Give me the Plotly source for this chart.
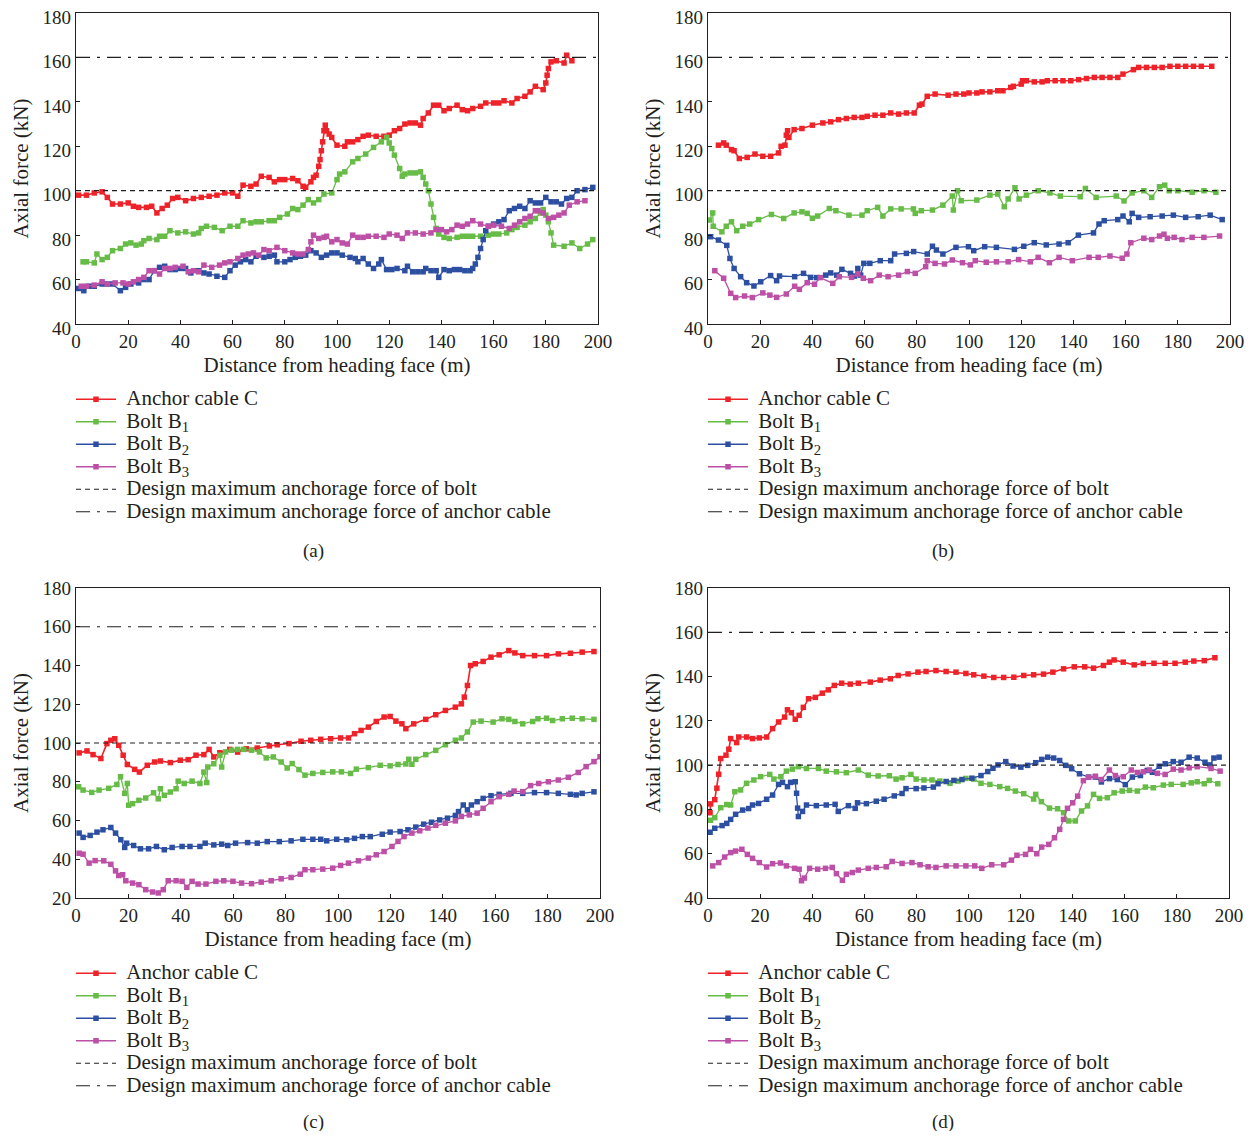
import plotly.graph_objects as go

W, H = 1257, 1139
PAGE_MARGIN = 8  # default body margin of the html page

# ---------------- data ----------------
X_TICKS = [0, 20, 40, 60, 80, 100, 120, 140, 160, 180, 200]
BOLT_DESIGN = 100
CABLE_DESIGN = 160

SERIES_NAMES = ["Anchor cable C", "Bolt B<sub>1</sub>", "Bolt B<sub>2</sub>", "Bolt B<sub>3</sub>"]
LINE_NAMES = ["Design maximum anchorage force of bolt", "Design maximum anchorage force of anchor cable"]
PANEL_LABELS = ["(a)", "(b)", "(c)", "(d)"]

# Panel (a)
a_C = [(1,98),(4,98),(7,99),(10,99.5),(12,97),(14,94),(17,94),(20,94.5),(22,93),(24,92.5),(27,92.5),(29,93),(31,90),(33,92),(35,93.5),(37,96.5),(39,97),(42,95.5),(45,96.5),(48,97),(51,97.5),(54,98),(57,99),(60,99),(62,97.5),(64,102.5),(67,102),(69,103),(71,106.5),(74,106),(76,104),(78,105),(80,105),(83,105.5),(85,104.5),(87,102),(88,101.5),(90,104),(91,106),(92,107),(93,111),(93.5,114),(94,118),(94.5,122),(95,127),(95.5,129.5),(96,127),(97,125.5),(98,124),(100,120.5),(103,120),(104,122),(106,122),(108,123),(110,124.5),(112,125),(115,124.5),(118,124.5),(120,125),(122,127),(124,128),(126,130),(128,130.5),(130,130.5),(132,129.5),(133,132.5),(135,135),(137,138.5),(139,138.5),(141,136),(143,137),(146,138.5),(148,136.5),(150,136),(152,137),(155,138),(157,139.5),(160,139.5),(162,139.5),(164,140.5),(167,139.5),(169,141.5),(172,142.5),(174,144.5),(176,147),(179,145.5),(180,148.5),(180.5,152),(181,155),(182,158),(184,158.5),(187,157.5),(188,161),(190,158.5)]
a_B1 = [(2.7,68),(4,68),(7,67.5),(8,71.5),(10,69),(12,70),(14,73),(17,74),(19,76),(21,76.5),(23,75.5),(25,76),(26,77.5),(28,78.5),(31,78),(32,79.5),(34,79.5),(36,82),(39,81),(42,81.5),(45,80.5),(47,81),(48,83),(50,84),(53,83.5),(56,82),(59,84),(62,84),(64,86.5),(67,85.5),(69,86),(71,86),(74,86.5),(76,86.5),(78,88),(81,89.5),(83,92),(85,91.5),(87,93.5),(89,96),(91,94.5),(93,96),(95,98.5),(98,99),(100,105),(101,107.5),(103,108.5),(106,113),(108,114.5),(111,116.5),(114,119.5),(117,122),(119,124),(120,121.5),(121,119),(122,116),(124,110),(125,106.5),(126,107.5),(128,108),(130,108),(132,108.5),(133,106),(134,103),(135,100),(136,94),(137,88),(138,83),(139,80.5),(141,79),(143,78.5),(146,79),(148,79.5),(150,79.5),(152,79.5),(155,79.5),(158,80),(160,80.5),(162,80.5),(165,81),(167,82.5),(169,83.5),(172,84.5),(174,86),(176,87.5),(178,90),(179,91.5),(180,89),(181,86),(182,81),(183,75.5),(187,75),(190,76.5),(193,74),(196,76),(198,78)]
a_B2 = [(1,56),(3,55),(5,57),(7,57),(10,58),(12,58),(14,58),(17,55),(19,56.5),(21,58),(24,58.5),(26,60),(28,60),(30,64),(32,65.5),(34,66),(36,64.5),(38,64.5),(40,65),(42,65),(44,63),(47,64),(49,63),(51,62.5),(54,61.5),(57,61),(59,64),(61,66.5),(63,68),(65,69),(67,68),(69,70.5),(72,70),(74,70.5),(76,71),(77,68),(80,68),(82,69),(84,70),(86,70.5),(88,71),(90,73),(92,72),(94,70),(96,71),(98,72),(100,72),(102,71),(105,70),(107,69.5),(108,68),(110,69.5),(112,67),(114,65),(116,67),(117,69),(119,64.5),(121,64.5),(123,65),(126,64),(127,66),(129,63.5),(131,63.5),(133,63.5),(134,65),(136,64),(138,64),(139,61),(141,64.5),(143,64),(145,64.5),(147,64.5),(149,64),(151,64),(152,65),(153,67),(154,70),(155,74),(156,78),(157,82),(158,84),(160,85),(162,86),(164,87),(166,91),(168,92),(170,93),(172,92),(174,95.5),(176,94.5),(178,94.5),(180,97),(182,95),(184,95),(186,94),(188,96.5),(190,97),(192,100),(195,100.5),(198,101.5)]
a_B3 = [(2,57),(4,57),(7,57.5),(10,59),(12,58),(15,58.5),(18,58.5),(20,58),(22,59),(24,60),(26,61),(28,64),(30,64),(32,62.5),(34,65),(36,65),(38,65.5),(41,66),(43,63.5),(45,64),(47,63.5),(49,66.5),(52,65.5),(55,66.5),(57,67.5),(59,68),(62,69.5),(64,71),(66,71.5),(68,72),(70,71),(72,73.5),(74,73),(77,74.5),(80,73),(83,72),(85,71.5),(87,71.5),(89,73.5),(90,77),(91,80),(93,78.5),(95,79),(96,79.5),(98,77),(100,78),(102,76.5),(104,76),(106,80),(108,79),(110,79),(112,79.5),(115,79.5),(118,79),(120,80.5),(123,80),(125,78.5),(127,81),(130,81),(133,80.5),(136,81),(138,82.5),(140,82.5),(142,81.5),(144,82.5),(146,84.5),(148,84),(150,85),(152,86.5),(155,85),(158,84),(160,84.5),(163,84),(166,83),(168,84.5),(170,86),(172,87.5),(174,88.5),(176,91),(177,91),(179,90),(181,87.5),(183,88),(185,89),(187,90),(189,93.5),(192,95),(195,95.5)]

# Panel (b)
b_C = [(4,120.5),(6,121.5),(7,120.5),(9,118.5),(10,118),(12,114.5),(15,115),(18,116.5),(21,115.5),(24,115.5),(27,117),(28,120),(29.5,120.5),(30,125),(30.5,127),(31,124),(33,127.5),(36,128),(40,129.5),(44,130.5),(47,131),(50,132),(53,132.5),(56,133),(59,133),(61,133.5),(64,134),(67,134),(70,135),(73,134.5),(76,135),(79,135),(81,138.5),(82,139),(84,142.5),(87,143.5),(92,143),(95,143.5),(98,143.5),(100,144),(103,144),(105,144.5),(108,144.5),(111,145),(113,145),(116,146.5),(117,147),(120,148),(120.5,149.5),(122,149.5),(125,149),(128,149),(130,149.5),(133,149.5),(136,149.5),(139,149.5),(142,150),(145,150.5),(148,151),(151,151),(154,151),(157,151),(159,152.5),(163,154.5),(165,155.5),(168,155.5),(171,155.5),(174,155.5),(177,156),(180,156),(183,156),(186,156),(189,156),(193,156)]
b_B1 = [(0.5,86.8),(1.8,90),(2,84),(5.3,81.5),(7,84),(9,86),(11,82),(13.3,84),(16,85),(19.4,87),(24.3,89.3),(29,87.5),(33,90),(36,90.5),(38,89.8),(40,87.6),(42,88.6),(46.5,92),(49,91),(54,89),(59,89),(61,91),(65,92.5),(67,88.6),(70,91.8),(74,91.8),(78.7,91.8),(79.4,89.8),(81.7,91),(86,91.3),(90,93.5),(93.6,97.6),(94,91.3),(95.6,100),(97,95.5),(103,95.8),(108,98),(111,98.5),(113.5,92.8),(115,96.3),(117.6,101.3),(119.2,96.3),(122,98),(126.5,100),(131,99),(135,97.6),(142.6,97.3),(144.6,101),(148.7,97),(156.4,97.6),(159.4,95.4),(162.5,99),(167,100),(170,97),(173,101.8),(175,102.5),(176.7,100),(180,100),(185.5,99.3),(190,100),(194.6,99.3)]
b_B2 = [(1,79.3),(4,77.8),(7.2,75.4),(8.4,69.5),(10,65),(12.5,61.3),(14.8,58.6),(17.6,57.1),(20.2,59),(24,61.8),(26.3,59.5),(27.4,61.6),(33.2,61.3),(36.6,62.8),(39.3,61),(41.6,60.9),(45.1,62),(47,63),(49.3,62),(51.3,64.6),(54.6,62.8),(56.2,61.6),(57.4,65),(58.5,62),(59.7,67.3),(62,67.3),(66,68.5),(70,68.5),(71.5,71.5),(76,71.8),(78.8,72.6),(84,71.5),(86,75),(87.5,73.3),(90,71.5),(95,74.5),(99.8,74.8),(101.8,73),(106,74.8),(110.5,74.5),(117.4,73.6),(121,75),(125,76.6),(129.6,75.6),(134.5,76),(138,76.6),(141.9,80),(147.7,81),(149.8,85),(151.8,86.5),(157,87),(159,88.6),(161.4,86),(162.5,89.8),(165,88),(169.4,88.3),(174,88.6),(178.3,89),(183,88),(187.8,88.3),(192.4,89),(197,87)]
b_B3 = [(2.6,64),(6,60.6),(8.7,53.8),(10.6,51.9),(14,52.6),(17,51.9),(21,54),(23.7,53),(26.3,52),(30,53.5),(33.2,57),(35,55.6),(38,58.6),(40.8,57.9),(43,60.9),(47.8,58.3),(50.3,61.3),(55,61),(57.4,62.5),(59.5,60.6),(62.3,59.5),(65.6,62),(69,61.3),(73,62),(76.4,63.6),(79.4,62.8),(83.4,65.8),(84,68.5),(87,67.3),(90.6,67),(93.6,68.8),(97.5,67.6),(100.5,66.6),(102.4,68.5),(106.6,67.8),(110.5,68),(115,68),(119,69),(123.5,68),(126.5,70),(130.8,67.6),(134.5,70),(139.6,68.5),(146,70),(149.5,70),(154,70.6),(158.7,69.6),(160.5,71.5),(162,76.6),(167,78.6),(170,78),(173,79.6),(174.7,80.4),(176,78.6),(178.6,79),(181.6,78),(185.5,79),(190,79),(196,79.6)]

# Panel (c)
c_C = [(1.2,94.9),(4.2,95.9),(6.5,94),(9.5,92),(11.8,99.7),(13.3,101.4),(14.8,102.2),(16.3,98.8),(18,93.7),(19.6,88.9),(22.4,86.4),(24.2,85),(27.2,88.5),(30,90.2),(32.2,90.7),(36,89.9),(39.8,91.1),(42.8,91.4),(45.8,93.7),(48.8,94),(50.8,96.7),(52.6,92.8),(54.9,95),(58.7,96.7),(61.7,95.3),(65,97),(69.2,97.4),(73.8,98.5),(76.8,99.1),(81.3,99.7),(85.9,100.9),(89.6,101.4),(93.4,101.9),(97.2,102.2),(101,102.6),(104,102.6),(106.3,104.8),(108.8,106.5),(111.6,108.2),(114.6,111.1),(117.6,113.4),(119.9,113.7),(122.1,111.3),(124.4,109.9),(125.9,107.4),(128.9,109.9),(133.5,112.2),(137.3,114.6),(141,116.8),(144.8,118.5),(147.1,120.2),(148.2,123.7),(149.4,129.7),(150.6,140),(152.4,140.9),(155.4,142.1),(158.4,144.3),(161.5,145.5),(165.2,147.7),(167.5,146.5),(170.5,145.1),(175,145.1),(179.6,145.1),(184.1,146),(188.7,146.3),(193.2,146.9),(197.7,147.2)]
c_B1 = [(1,77.4),(2.7,75.7),(6,74.5),(8.8,75.7),(12.5,76.6),(15.6,78.6),(17,82.6),(18.6,74),(19.6,79.1),(20.1,67.9),(21.6,68.7),(24,70.4),(26.6,71.6),(29.6,74.3),(31.4,71.2),(32.2,76.4),(33.7,73),(36,74.7),(38.2,76.4),(39,80.3),(41.3,79.1),(44.3,80.3),(47.3,79.1),(48.8,85),(49.9,79.6),(50.3,87.6),(52.6,89.3),(54.9,93.7),(55.6,87.6),(57.1,95.4),(59.4,96.3),(61.7,96.7),(64,96.7),(67,96.3),(70,95.4),(72.6,92.3),(75.3,92.8),(78.3,90.2),(80.6,87.1),(82.5,89.4),(85.1,86.3),(87.4,83.4),(90.4,84.3),(94.2,84.8),(98,85.1),(101.3,85.1),(104.8,84.3),(107,86.5),(111.6,87.3),(116.1,88.5),(119.9,88.2),(122.9,88.9),(125.9,89.2),(127,91.6),(128.2,89),(129.7,91.6),(133.5,94),(137.3,96.2),(141,99.1),(144.8,101.4),(147.1,102.6),(149.4,105.7),(151.6,110.8),(154.6,111.3),(159.2,110.8),(162.6,112.5),(165.2,112.2),(167.5,111.1),(170.5,109.9),(174.3,111.1),(176.3,112.5),(179.6,112.8),(181.9,111.6),(185.6,112.5),(189.4,112.8),(193.2,112.5),(197.7,112.2)]
c_B2 = [(1.2,53.5),(2.7,51.3),(5.4,52.3),(8,54),(10.3,55.2),(13.3,56.4),(15.1,53.5),(17.1,50.1),(18.6,46.1),(19.3,48.3),(22,47.1),(24.6,45.4),(27.7,45.4),(30.7,46.6),(33.7,44.9),(36.7,46.1),(40.5,46.6),(43.5,46.6),(47.3,46.6),(49.3,48.3),(52.6,47.4),(55.6,47.8),(57.9,47.1),(60.9,48.3),(65.5,48.6),(69.2,48.3),(73,49.1),(77.6,49.1),(82.1,49.5),(86.6,50.3),(90.4,50.3),(93.4,50.3),(95.7,49.5),(99.5,50.3),(103.3,50),(106.3,50.8),(109.3,51.7),(112.3,51.7),(116.9,52.9),(119.9,54),(123.7,54.3),(126.7,55.2),(129.7,56.6),(132.7,58.1),(135.7,59.1),(138.8,60.3),(141.8,61.2),(144.8,62.6),(146,64.6),(147.8,68),(149.4,65.5),(150.9,68),(153.1,69.7),(155.4,71.4),(158.4,72.8),(161.5,73.5),(166,74),(170.5,74),(175,74.4),(179.6,74.4),(184.1,74),(188.7,73.5),(190.9,73.2),(193.2,74),(197.7,74.8)]
c_B3 = [(1.2,43.1),(2.7,42.6),(5,38),(7.3,39.3),(10.6,39.2),(13.3,37.4),(15.1,34),(16.3,31.6),(17.8,32),(19,28.9),(21.6,27.7),(24,26.9),(26.6,24.3),(29.2,23.1),(31.4,22.6),(33.3,24.3),(35.2,28.9),(38.2,28.9),(40.5,28.6),(42.3,25.5),(44.3,28.6),(46.6,27.2),(49.6,27.2),(53.4,28.6),(56.4,28.9),(59.9,28.6),(63.2,27.7),(67,27.4),(70.7,28.2),(74.5,28.9),(78.3,29.9),(82.1,30.6),(85.6,32.3),(87.4,34.6),(90.4,34.6),(94.2,34.9),(98,35.4),(101,36.8),(104,38),(107.8,39.2),(111.6,40.6),(114.6,42.3),(117.6,44),(120.6,46.6),(122.9,49.2),(125.2,51.7),(128.2,53.5),(131.2,54.7),(134.3,56.1),(137.3,57.5),(141,58.6),(144.8,59.8),(147.1,62.1),(150.1,62.9),(153.1,63.8),(155.4,66.3),(158.4,69.7),(161.5,72.3),(165.2,73.5),(167.2,75.2),(170.5,74.9),(173.5,78),(176.6,79.1),(180.3,80),(184.1,80.9),(187.9,82.3),(191.7,84.8),(194.7,87.8),(197.7,90.4),(200,92.9)]

# Panel (d)
d_C = [(0.8,78.5),(1,82.5),(2.6,84.4),(3.4,89.6),(4.1,95.9),(4.9,103),(6.9,104.5),(8,107.2),(8.7,112),(11,110.2),(11.8,112.7),(14.8,112.7),(17.1,112),(19.7,112.3),(22.5,112.7),(24.8,116.5),(27.1,119.5),(29.4,121.7),(30.5,125),(32,123.7),(33.5,120.7),(35,122.5),(36.6,126.1),(38.6,130),(41.2,130.6),(43.9,132.5),(46.2,134),(48.5,136),(51.3,137),(54.6,136.6),(57.7,137),(62.3,137.5),(66.1,138.4),(70,139),(73,140.5),(76.8,141.2),(80.6,142),(83.7,142.3),(87.5,142.7),(91.4,142.3),(95.2,142),(99,141.4),(102,140.8),(105.9,140.2),(109.7,139.6),(113.5,139.6),(117.4,139.7),(121.2,140.5),(125,140.8),(128.8,141.1),(132.4,142),(136.5,143.5),(140.6,144.4),(144.6,144.4),(148,143.8),(151.8,145),(154.1,146.5),(155.9,147.5),(159.4,146.5),(163.6,145.3),(167.1,145.9),(171.2,146),(175.5,146),(179.3,146),(183.2,146.5),(186.5,147),(190.5,147.2),(194.6,148.5)]
d_B1 = [(1,75.1),(2.6,76.3),(4.9,80.8),(7.2,82.2),(8.7,82),(10.3,88),(12.5,88.8),(14.8,91.8),(17.6,93.3),(20.2,94.8),(23.7,95.8),(25.3,93.7),(28,94.8),(30.1,97.3),(32.4,98.2),(34.7,99.3),(37.8,98.5),(42.4,98.5),(45.4,97.3),(49.3,97),(53.1,96.6),(57.7,97.8),(61.5,95.5),(65.3,95.1),(69.6,95.2),(72.2,93.7),(74.5,94.3),(77.9,95.8),(79.9,93.7),(82.9,93.3),(86,93.3),(89,92.8),(92.9,91.8),(96,92.8),(99,94),(102,93.7),(104.8,91.8),(108.2,91.3),(112,90.3),(115,89.5),(118,88.3),(121.2,87.1),(125,84.7),(125.8,86.8),(128,83.5),(131.1,80.6),(134.2,80.3),(136.5,78.5),(138.5,74.8),(141,74.8),(143.4,79.3),(145.7,81.6),(148,86.8),(150.3,85),(153.3,85.3),(155.9,87.5),(159,88.3),(161.8,88.6),(164.8,88.3),(167.9,90.1),(170.9,89.8),(174.8,91),(177.8,91.3),(182.4,91.3),(185.5,92),(187.8,92.5),(190.5,91.6),(192.4,93.1),(195.7,91.6)]
d_B2 = [(0.8,69.7),(2.6,71.5),(5.4,72.7),(7.2,73.7),(8.7,75.5),(10.6,77.8),(13.3,79.7),(15.6,80.4),(17.1,82),(19.4,82.7),(22.5,84.6),(24.8,86.5),(27.1,91.3),(28.6,92.2),(30.5,90.3),(31.7,92.2),(33.5,92.5),(34,87.3),(34.4,80.6),(34.7,76.8),(36.3,79.1),(37.8,82),(41.6,81.7),(45.4,82),(48.8,82.3),(50,79.1),(53.9,81.7),(56.5,80.5),(57.4,83),(60.8,82.6),(64.6,83.7),(67.6,84.6),(71.5,86.1),(74.5,87.2),(76,89.4),(79.9,89.4),(82.9,89.7),(86.5,90.1),(88.3,91.6),(91.4,92.6),(94.4,93.1),(97.5,93.5),(101.3,94.1),(104.8,95.3),(107.4,97.1),(109.4,98.6),(111.3,100.1),(114.3,101.6),(117.1,99.6),(120.1,99.1),(122.7,99.9),(125.8,101.1),(128.1,102.6),(130.4,103.6),(132.7,103.2),(135,102.1),(137.3,99.9),(139.6,98.4),(142.6,96.1),(146.1,94.6),(148.7,94.6),(151,92.4),(154.1,93.9),(157.1,93.5),(160.2,91.2),(162.9,94.6),(166,95.3),(168.6,97.6),(170.6,96.8),(173.2,99.5),(175.5,100.6),(178.6,101.6),(181.6,101.3),(184.7,103.6),(187.8,103.2),(190.8,101.3),(192.7,100.1),(194.2,103.2),(196.2,103.6)]
d_B3 = [(1.8,54.5),(4.1,56),(6.4,58.5),(8.7,60.5),(10.6,61.2),(13,62),(15.1,59.7),(17.1,57.9),(19.7,56),(22.5,54),(24.8,55.5),(27.8,55.8),(30.1,54.5),(33.2,53.4),(35,53),(35.9,47.8),(37,49),(39,53.4),(42.1,53),(45.1,53.4),(47.7,53.8),(49.3,51),(51.6,48),(53.1,50.7),(55.4,51.5),(57.7,52.6),(61.5,53.4),(64.6,53.8),(68.4,54.1),(70.7,56.5),(74.5,55.6),(78.3,56),(81.4,55),(84.5,54.1),(87.5,53.8),(91.4,54.5),(95.2,54.5),(99,54.5),(102.4,54.5),(105.1,53.4),(108.9,55),(113.5,55),(116.5,57.1),(118.6,59.3),(121.9,59.7),(123.8,62),(126.2,60),(128.1,63),(130.8,64.2),(133,67.2),(135,71),(136.5,75.5),(138,80.5),(140,83),(141.9,86),(144.1,93),(146.1,94.5),(148.7,95),(151,93.5),(154.1,97.8),(156.4,95.3),(159.4,94.8),(162.5,97.8),(164.8,96.7),(167.1,97),(169.4,97.8),(172.5,96.3),(175.5,95.8),(178.6,98.2),(181.6,97.8),(184.7,98.8),(187.8,99.3),(193.1,98.5),(196.6,97.3)]

PANELS = [
    dict(series=[a_C, a_B1, a_B2, a_B3], yrange=[40, 180]),
    dict(series=[b_C, b_B1, b_B2, b_B3], yrange=[40, 180]),
    dict(series=[c_C, c_B1, c_B2, c_B3], yrange=[20, 180]),
    dict(series=[d_C, d_B1, d_B2, d_B3], yrange=[40, 180]),
]

# ---------------- styling ----------------
COLORS = ["#EE2229", "#66BC46", "#2D4FA2", "#BC4FA6"]
LINE_W = [1.6, 1.3, 1.3, 1.3]
FONT = "Liberation Serif"
TXT = "#231F20"
LEG_TEXT_SIZE = 21

# pixel boxes (in the reference picture) of plot areas: (left, right, top, bottom)
BOXES = [(76, 598, 13, 324), (708, 1230, 13, 324), (76, 600, 588, 898), (708, 1229, 588, 898)]
LEGEND_POS = [(71, 383), (703, 383), (71, 957), (703, 957)]
LABEL_POS = [(313, 551), (943, 551), (313, 1122), (943, 1122)]
YLABEL_SHIFT = [4, 4, 0, 0]  # keep the top "180" label inside the page

FW, FH = W - 2 * PAGE_MARGIN, H - 2 * PAGE_MARGIN

def px(x):
    return (x - PAGE_MARGIN) / FW

def py(y):
    return 1 - (y - PAGE_MARGIN) / FH

def leg_name(s):
    return '<span style="font-size:%dpx">&nbsp;%s</span>' % (LEG_TEXT_SIZE, s)

fig = go.Figure()
layout = dict(
    width=FW, height=FH, margin=dict(l=0, r=0, t=0, b=0),
    paper_bgcolor="white", plot_bgcolor="white",
    font=dict(family=FONT, size=19, color=TXT),
    showlegend=True, annotations=[],
)

for i, panel in enumerate(PANELS):
    k = "" if i == 0 else str(i + 1)
    xa, ya = "x" + k, "y" + k
    lg = "legend" + k
    L, R, T, B = BOXES[i]
    axis_common = dict(
        showgrid=False, zeroline=False, showline=True, linecolor="#231F20", linewidth=1.2,
        mirror=True, ticks="inside", ticklen=4, tickcolor="#231F20",
        tickfont=dict(family=FONT, size=19, color=TXT), automargin=False,
        ticklabeloverflow="allow",
    )
    layout["xaxis" + k] = dict(
        axis_common, domain=[px(L), px(R)], anchor=ya, range=[0, 200],
        tickvals=X_TICKS, title=dict(text="Distance from heading face (m)", standoff=6,
                                     font=dict(family=FONT, size=21, color=TXT)),
    )
    layout["yaxis" + k] = dict(
        axis_common, domain=[py(B), py(T)], anchor=xa, range=panel["yrange"],
        dtick=20, ticklabelshift=YLABEL_SHIFT[i],
        title=dict(text="Axial force (kN)", standoff=8,
                   font=dict(family=FONT, size=21, color=TXT)),
    )
    lx, ly = LEGEND_POS[i]
    layout[lg] = dict(
        x=px(lx), y=py(ly), xanchor="left", yanchor="top", bgcolor="rgba(0,0,0,0)",
        font=dict(family=FONT, size=15, color=TXT), tracegroupgap=0, itemwidth=40,
        traceorder="normal",
    )
    for j, pts in enumerate(panel["series"]):
        xs = [p[0] for p in pts]
        ys = [p[1] for p in pts]
        fig.add_trace(go.Scatter(
            x=xs, y=ys, xaxis=xa, yaxis=ya, legend=lg, name=leg_name(SERIES_NAMES[j]),
            mode="lines+markers", line=dict(color=COLORS[j], width=LINE_W[j]),
            marker=dict(symbol="square", size=5.5, color=COLORS[j]),
        ))
    fig.add_trace(go.Scatter(
        x=[0, 200], y=[BOLT_DESIGN, BOLT_DESIGN], xaxis=xa, yaxis=ya, legend=lg,
        name=leg_name(LINE_NAMES[0]), mode="lines",
        line=dict(color="#231F20", width=1.2, dash="5px,4px"),
    ))
    fig.add_trace(go.Scatter(
        x=[0, 200], y=[CABLE_DESIGN, CABLE_DESIGN], xaxis=xa, yaxis=ya, legend=lg,
        name=leg_name(LINE_NAMES[1]), mode="lines",
        line=dict(color="#231F20", width=1.2, dash="14px,7px,3px,7px"),
    ))
    ax, ay = LABEL_POS[i]
    layout["annotations"].append(dict(
        text=PANEL_LABELS[i], x=px(ax), y=py(ay), xref="paper", yref="paper",
        showarrow=False, xanchor="center", yanchor="middle",
        font=dict(family=FONT, size=19, color=TXT),
    ))

fig.update_layout(**layout)
fig.write_html("out.html")
